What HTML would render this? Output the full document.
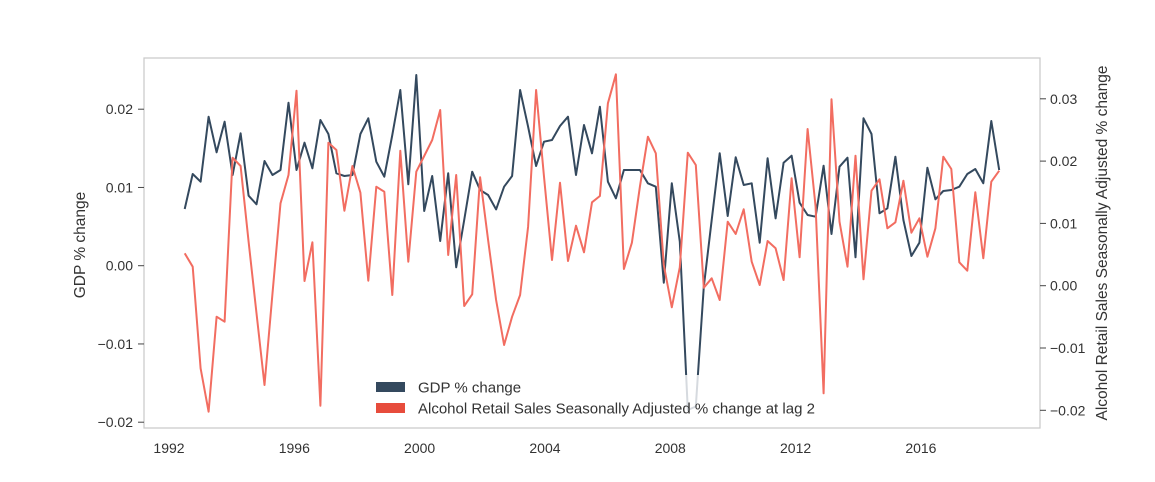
<!DOCTYPE html>
<html><head><meta charset="utf-8"><style>
html,body{margin:0;padding:0;background:#fff;}
svg{display:block;font-family:"Liberation Sans",Arial,sans-serif;}
</style></head><body>
<svg id="chart" width="1155" height="482" viewBox="0 0 1155 482">
<rect x="0" y="0" width="1155" height="482" fill="#fff"/>
<g id="series"></g>
<g id="axes"></g>
<g id="legend"></g>
</svg>
<script>
const gdpValues = [0.00725,0.01172,0.01074,0.01904,0.01449,0.0184,0.01159,0.01692,0.00895,0.00785,0.01338,0.01159,0.01223,0.02083,0.01223,0.01572,0.01245,0.01862,0.01683,0.01181,0.01146,0.01159,0.01683,0.01884,0.01329,0.01137,0.0167,0.02245,0.0104,0.02437,0.00699,0.01146,0.00316,0.01181,
-0.0002,0.00584,0.01201,0.00967,0.00903,0.0072,0.0101,0.01146,0.02245,0.01776,0.01274,0.01585,0.01606,0.01785,0.01904,0.01159,0.01798,0.01436,0.02032,0.01074,0.00861,0.01223,0.01223,0.01223,0.01053,0.0101,-0.00217,0.01053,0.00307,-0.01844,-0.0180,-0.00268,0.00584,0.01436,0.00635,0.01385,0.01031,
0.01053,0.00294,0.01372,0.00605,0.01316,0.01406,0.00805,0.00648,0.00626,0.01278,0.00405,0.01265,0.0138,0.00107,0.01884,0.01683,0.0067,0.00733,0.01393,0.00584,0.00124,0.00294,0.01252,0.00848,0.00955,0.00967,0.0101,0.01172,0.01236,0.01053,0.01849,0.01223];
const alcoholValues = [0.0052,0.00305,-0.01326,-0.02022,-0.00498,-0.00578,0.02055,0.01921,0.00706,-0.00443,-0.01594,-0.00122,0.01323,0.01777,0.0313,0.00075,0.00697,-0.01926,0.02295,0.02178,0.01204,0.01921,0.01493,0.0008,0.01589,0.01509,-0.00149,0.02167,0.00385,0.0183,0.02082,0.02339,0.0282,0.00493,
0.01777,-0.00326,-0.00138,0.0174,0.00734,-0.0023,-0.00952,-0.00498,-0.00149,0.00947,0.03141,0.0175,0.00413,0.01653,0.00396,0.00963,0.00536,0.01339,0.0144,0.02928,0.03393,0.00268,0.0069,0.01589,0.02392,0.02125,0.00332,-0.00347,0.00295,0.02135,0.01937,-0.00032,0.00119,-0.0023,0.01027,0.0083,0.01226,
0.00385,0.00011,0.00718,0.006,0.00091,0.01724,0.00456,0.02515,0.01268,-0.01727,0.02992,0.01027,0.00305,0.02087,0.00103,0.01525,0.01708,0.00921,0.01018,0.01685,0.00851,0.01082,0.00466,0.00921,0.02071,0.01873,0.00376,0.00241,0.01499,0.0044,0.01669,0.01846];
const startYear = 1992.5, endYear = 2018.5;
const xTicks = [1992,1996,2000,2004,2008,2012,2016];
const leftTicks = [-0.02,-0.01,0.00,0.01,0.02];
const leftTickLabels = ["\u22120.02","\u22120.01","0.00","0.01","0.02"];
const rightTicks = [-0.02,-0.01,0.00,0.01,0.02,0.03];
const rightTickLabels = ["\u22120.02","\u22120.01","0.00","0.01","0.02","0.03"];

const NS="http://www.w3.org/2000/svg";
const L=144,R=1040,T=58,B=428;
const xS = y => 169 + (y-1992)*31.33;
const yL = v => 265.7 - v*7825;
const yR = v => 285.7 - v*6230;
function mk(tag,attrs,parent){const e=document.createElementNS(NS,tag);for(const k in attrs)e.setAttribute(k,attrs[k]);parent.appendChild(e);return e;}
const axes=document.getElementById('axes'),series=document.getElementById('series'),legend=document.getElementById('legend');
const n=gdpValues.length;
const years=gdpValues.map((_,i)=>startYear+i*(endYear-startYear)/(n-1));

function pts(arr,ys){return arr.map((v,i)=>xS(years[i]).toFixed(1)+','+ys(v).toFixed(1)).join(' ');}
let g=mk('polyline',{points:pts(gdpValues,yL),fill:'none',stroke:'#34495e','stroke-width':2,'stroke-linejoin':'round'},series);


let a=mk('polyline',{points:pts(alcoholValues,yR),fill:'none',stroke:'#f26d61','stroke-width':2,'stroke-linejoin':'round'},series);



let fr=mk('rect',{x:L,y:T,width:R-L,height:B-T,fill:'none',stroke:'#cccccc','stroke-width':1.3},axes);



xTicks.forEach(t=>{
  const x=xS(t);
  let tx=mk('text',{x:x,y:453,'text-anchor':'middle','font-size':14,fill:'#333'},axes);
  tx.textContent=t;
  
  
});
leftTicks.forEach((t,i)=>{
  const y=yL(t);
  let tk=mk('line',{x1:L-6,x2:L,y1:y,y2:y,stroke:'#444','stroke-width':1},axes);
  
  
  let tx=mk('text',{x:L-11,y:y+5,'text-anchor':'end','font-size':14,fill:'#333'},axes);
  tx.textContent=leftTickLabels[i];
  
  
});
rightTicks.forEach((t,i)=>{
  const y=yR(t);
  let tk=mk('line',{x1:R,x2:R+6,y1:y,y2:y,stroke:'#444','stroke-width':1},axes);
  
  
  let tx=mk('text',{x:R+10,y:y+5,'text-anchor':'start','font-size':14,fill:'#333'},axes);
  tx.textContent=rightTickLabels[i];
  
  
});
let yl=mk('text',{x:0,y:0,'text-anchor':'middle','font-size':15.5,fill:'#333',transform:'translate(85,245) rotate(-90)'},axes);
yl.textContent='GDP % change';


let yr=mk('text',{x:0,y:0,'text-anchor':'middle','font-size':15.5,fill:'#333',transform:'translate(1107,243) rotate(-90)'},axes);
yr.textContent='Alcohol Retail Sales Seasonally Adjusted % change';



let lb=mk('rect',{x:368,y:375,width:451,height:42,fill:'#fff','fill-opacity':0.8},legend);


[['#34495e','GDP % change',382],['#e74c3c','Alcohol Retail Sales Seasonally Adjusted % change at lag 2',403]].forEach(([c,t,y],i)=>{
  let p=mk('rect',{x:376,y:y,width:29,height:10,fill:c},legend);
  
  
  let tx=mk('text',{x:418,y:y+10.5,'font-size':15,fill:'#333'},legend);
  tx.textContent=t;
  
  
});
</script>
</body></html>
